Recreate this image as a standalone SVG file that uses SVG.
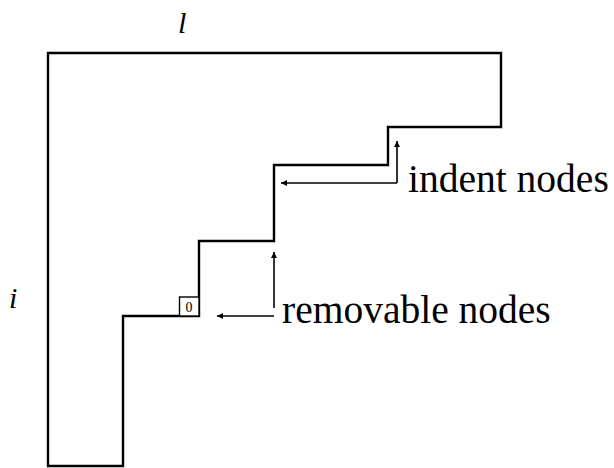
<svg xmlns="http://www.w3.org/2000/svg" width="614" height="468" viewBox="0 0 614 468">
<style>
.outline{fill:none;stroke:#000;stroke-width:2.4;stroke-linejoin:miter;stroke-linecap:square}
.arr{fill:none;stroke:#000;stroke-width:1.6}
.box{fill:#fff;stroke:#000;stroke-width:1.4}
</style>
<defs>
<marker id="ah" viewBox="0 0 10 10" refX="10" refY="5" markerWidth="8" markerHeight="6" markerUnits="userSpaceOnUse" orient="auto">
<path d="M0,0 L10,5 L0,10 Z" fill="#000"/>
</marker>
</defs>
<rect width="614" height="468" fill="#fff"/>
<g id="shape">
<path class="outline" d="M48,53 L501,53 L501,127 L388,127 L388,165 L274,165 L274,241 L199,241 L199,316 L123,316 L123,466 L48,466 Z"/>
</g>
<g id="zero-node">
<rect class="box" x="179.5" y="297" width="19.5" height="19"/>
<text font-family="Liberation Serif, serif" font-size="14" x="189" y="311.5" text-anchor="middle" fill="#000">0</text>
</g>
<g id="labels" font-family="Liberation Serif, serif" fill="#000">
<text font-style="italic" font-size="30" x="178" y="33">l</text>
<text font-style="italic" font-size="30" x="9" y="308">i</text>
<text id="indent-label" font-size="39.5" x="408" y="192">indent nodes</text>
<text id="removable-label" font-size="39.5" x="282" y="323">removable nodes</text>
</g>
<g id="connectors">
<line class="arr" x1="397" y1="183" x2="397" y2="141" marker-end="url(#ah)"/>
<line class="arr" x1="397" y1="183" x2="281" y2="183" marker-end="url(#ah)"/>
<line class="arr" x1="274" y1="308" x2="274" y2="252" marker-end="url(#ah)"/>
<line class="arr" x1="274" y1="316" x2="217" y2="316" marker-end="url(#ah)"/>
</g>
</svg>
